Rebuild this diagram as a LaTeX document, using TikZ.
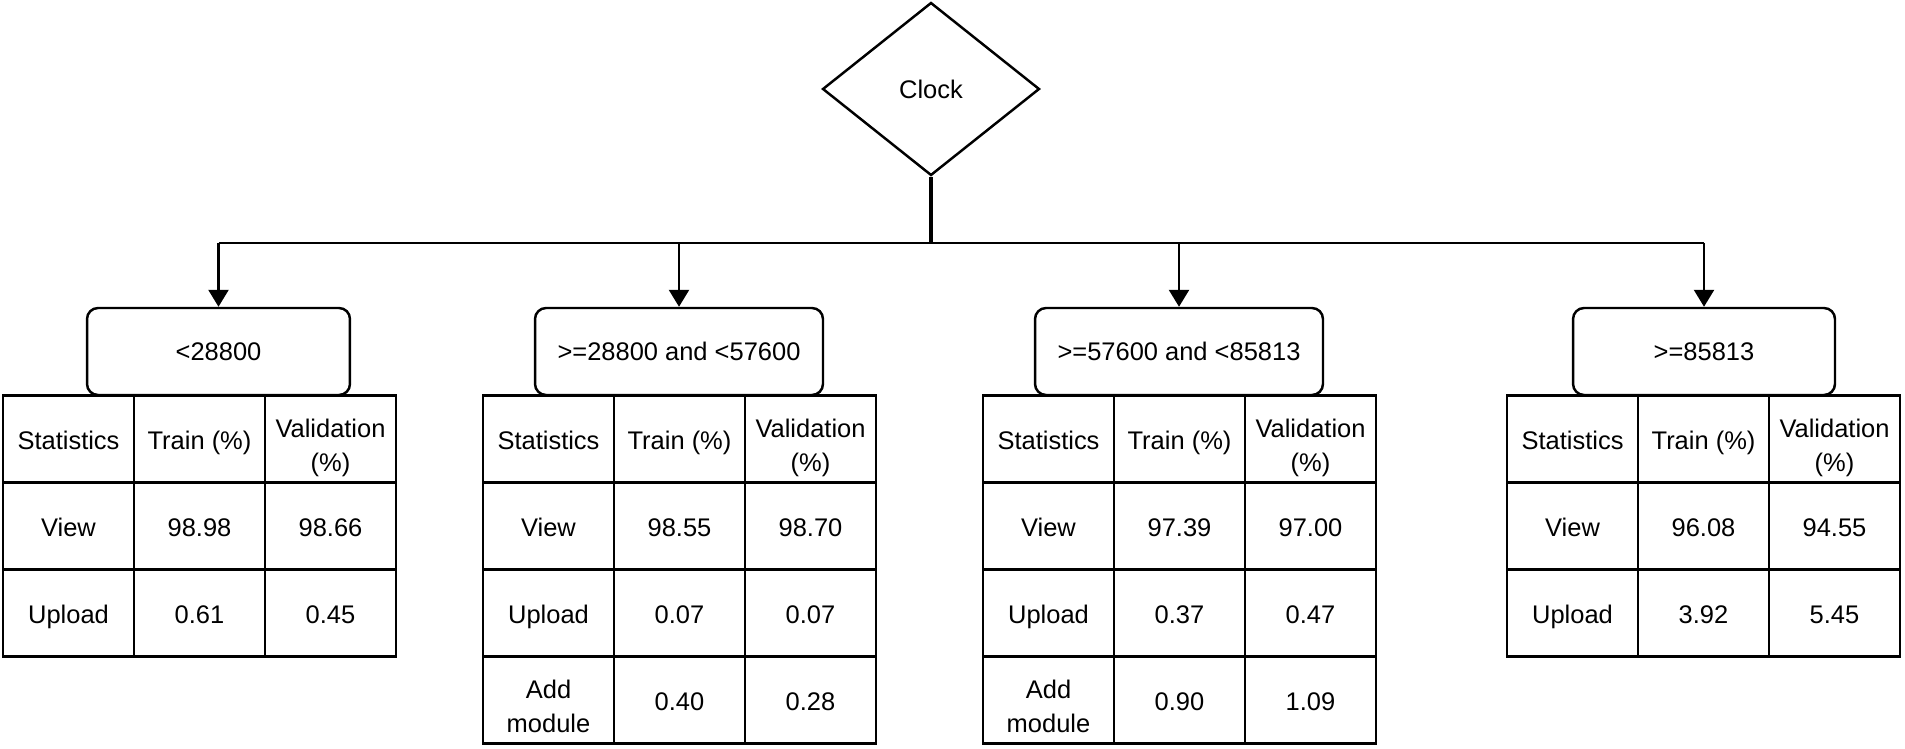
\documentclass[tikz,border=0pt]{standalone}
\usepackage{fontspec}
\setmainfont{Liberation Sans}
\usetikzlibrary{shapes.geometric, arrows.meta}
\newcommand{\twolinestrut}{\rule{0pt}{20.8pt}}

\begin{document}
\begin{tikzpicture}[x=0.02cm, y=-0.02cm, line width=1.4pt,
  every node/.style={font=\fontsize{14.5}{19}\selectfont},
  clockbox/.style={draw, diamond, aspect=1.25, inner sep=0pt, minimum width=4.34cm, minimum height=3.46cm},
  rangebox/.style={draw, rounded corners=0.22cm, minimum height=1.74cm, inner sep=0pt},
  statcell/.style={draw, align=center, minimum width=2.62cm, minimum height=1.74cm, inner sep=1pt,
    execute at begin node={\rule[-3.2pt]{0pt}{18.7pt}}},
  branchline/.style={-{Triangle[width=0.4cm, length=0.34cm]}}]
\useasboundingbox (0,0) rectangle (1905,749);

\node [clockbox] (clock) at (931,89) {Clock};
\coordinate (split) at (931,243);

\node [rangebox, minimum width=5.26cm] (r1) at (218.5,351.5) {<28800};
\node [rangebox, minimum width=5.76cm] (r2) at (679,351.5) {>=28800 and <57600};
\node [rangebox, minimum width=5.76cm] (r3) at (1179,351.5) {>=57600 and <85813};
\node [rangebox, minimum width=5.24cm] (r4) at (1704,351.5) {>=85813};

\draw [line width=2.3pt] (clock.south) -- (split);
\draw (r1.north |- split) -- (r4.north |- split);
\foreach \r in {r1,r2,r3,r4}
  \draw [branchline] (\r.north |- split) -- (\r.north);

% tables, cells numbered row by row
\foreach \txt [count=\k from 0] in {Statistics, Train (\%), {\twolinestrut Validation\\(\%)},
    View, 98.98, 98.66, Upload, 0.61, 0.45}
  \node [statcell] (t1-\k) at ({68.5+131*mod(\k,3)}, {439+87*int(\k/3)}) {\txt};
\foreach \txt [count=\k from 0] in {Statistics, Train (\%), {\twolinestrut Validation\\(\%)},
    View, 98.55, 98.70, Upload, 0.07, 0.07, {\twolinestrut Add\\module}, 0.40, 0.28}
  \node [statcell] (t2-\k) at ({548.5+131*mod(\k,3)}, {439+87*int(\k/3)}) {\txt};
\foreach \txt [count=\k from 0] in {Statistics, Train (\%), {\twolinestrut Validation\\(\%)},
    View, 97.39, 97.00, Upload, 0.37, 0.47, {\twolinestrut Add\\module}, 0.90, 1.09}
  \node [statcell] (t3-\k) at ({1048.5+131*mod(\k,3)}, {439+87*int(\k/3)}) {\txt};
\foreach \txt [count=\k from 0] in {Statistics, Train (\%), {\twolinestrut Validation\\(\%)},
    View, 96.08, 94.55, Upload, 3.92, 5.45}
  \node [statcell] (t4-\k) at ({1572.5+131*mod(\k,3)}, {439+87*int(\k/3)}) {\txt};
\end{tikzpicture}
\end{document}
